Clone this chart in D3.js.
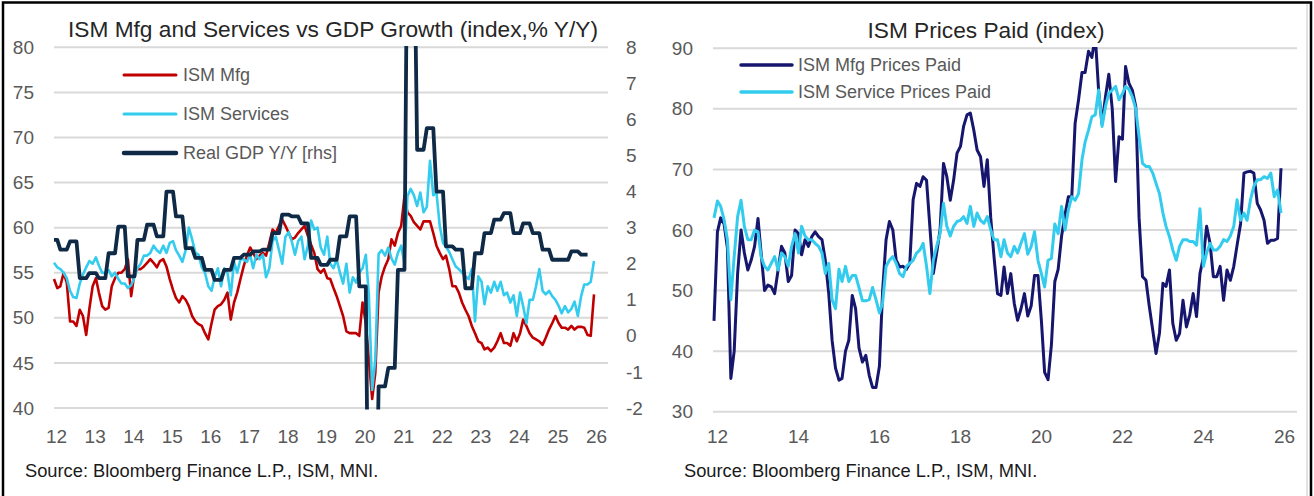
<!DOCTYPE html>
<html><head><meta charset="utf-8">
<script src="https://cdn.jsdelivr.net/npm/d3@7"></script>
<style>body{margin:0;background:#fff}</style>
</head><body><svg id="c" width="1314" height="496"></svg>
<script>
// ---- DATA (monthly from Jan 2012 to Jan 2026; GDP quarterly Q1 2012 - Q4 2025) ----
const ismMfg = [
  54.3,53.3,53.5,55.0,53.9,49.6,49.6,49.1,50.9,50.2,48.1,51.0, // 2012
  53.5,54.4,52.8,51.3,50.9,51.1,53.5,54.4,55.0,55.0,55.4,56.5, // 2013
  52.4,55.0,55.4,55.4,55.7,56.1,56.5,56.1,55.6,56.3,56.5,55.7, // 2014
  54.3,53.1,52.2,51.7,52.4,52.0,51.3,50.2,49.6,49.3,49.1,48.3, // 2015
  47.6,49.4,50.9,51.3,51.5,52.0,52.8,49.8,51.7,52.8,54.3,55.7, // 2016
  56.9,57.8,57.2,56.5,56.9,57.2,56.9,58.3,59.8,59.4,60.2,60.9, // 2017
  60.2,59.4,58.7,58.9,59.4,59.8,60.2,59.1,58.1,57.2,55.4,55.0, // 2018
  55.4,54.4,54.3,53.3,52.4,51.3,50.2,48.5,48.3,48.3,48.3,48.0, // 2019
  51.7,49.4,45.4,41.0,43.9,52.8,54.6,55.7,56.5,58.7,58.0,59.4, // 2020
  60.2,63.5,61.7,61.3,60.6,60.2,59.8,60.7,60.7,60.7,59.4,58.0, // 2021
  57.2,56.5,56.9,55.4,53.5,53.5,52.8,51.7,50.9,50.2,49.1,48.3, // 2022
  47.4,47.2,46.5,46.7,46.3,46.7,47.4,48.3,47.2,47.2,46.9,48.3, // 2023
  47.4,48.3,49.8,49.1,48.3,47.8,47.6,47.4,47.0,47.8,48.7,49.4, // 2024
  50.2,49.4,48.9,48.9,48.7,49.1,48.7,49.0,49.0,48.9,48.1,48.0, // 2025
  52.6                                                         // 2026
];
const ismServices = [
  56.1,55.6,55.4,55.0,54.4,53.0,52.3,52.2,53.8,54.8,55.6,56.3,
  56.0,56.7,55.8,55.0,55.0,55.3,54.6,55.0,54.3,53.8,53.8,53.3,
  53.6,54.5,55.5,56.0,56.9,56.9,57.2,58.0,57.5,57.2,58.0,57.2,
  58.3,58.5,57.5,56.9,56.2,57.5,60.0,58.7,57.2,57.0,55.6,55.0,
  53.5,53.0,54.5,55.5,53.5,55.5,55.0,52.5,56.2,55.0,56.5,56.5,
  56.2,57.0,55.5,57.0,56.5,57.0,54.5,55.5,58.5,59.0,57.5,56.0,
  59.0,59.5,58.5,57.0,58.5,59.0,56.5,58.0,60.8,59.8,60.0,57.8,
  57.0,59.0,56.0,55.5,56.5,55.0,53.8,56.0,52.8,54.5,53.9,55.0,
  55.5,57.0,52.5,42.0,45.4,57.1,57.5,56.9,57.8,56.6,55.9,57.2,
  58.0,56.0,63.5,64.3,63.6,62.4,63.9,61.7,62.3,67.4,63.6,63.9,
  60.2,58.3,57.9,57.3,56.5,55.7,55.4,55.0,54.6,54.3,55.4,49.6,
  54.6,54.0,51.5,53.5,52.8,54.0,53.0,54.0,52.5,52.8,51.7,52.5,
  50.2,52.8,51.3,49.4,52.0,52.0,53.5,55.4,53.0,52.6,53.0,52.4,
  52.0,51.3,50.5,51.3,50.6,51.0,51.8,50.2,52.4,53.7,53.7,54.0,
  56.3
];
const gdpYoY = [
  2.66,2.39,2.62,1.60,  1.74,1.60,2.29,3.03,  1.65,2.66,3.08,2.76,
  4.00,3.31,2.43,2.16,  1.83,1.55,1.83,2.16,  2.25,2.34,2.39,2.85,
  3.36,3.31,3.12,2.16,  1.97,2.11,2.76,3.31,  1.37,-7.5,-1.40,-0.89,
  1.83,12.0,5.16,5.76,  4.00,2.48,2.39,1.32,  2.29,2.85,3.22,3.40,
  2.85,3.12,2.85,2.39,  2.11,2.11,2.34,2.25
];
const mfgPrices = [
  45.0,59.7,62.0,61.0,57.0,35.5,40.0,52.8,60.0,56.2,53.4,55.0,
  57.3,61.9,56.2,50.0,50.9,50.6,49.5,53.4,57.3,56.2,51.5,52.5,
  60.0,59.4,55.9,58.4,57.3,58.9,59.7,58.9,58.4,55.0,49.5,41.8,
  37.2,35.2,35.5,40.0,41.8,49.2,47.0,40.5,38.2,39.3,36.0,34.0,
  34.0,37.5,50.0,58.4,61.4,60.0,55.0,53.9,54.0,53.5,54.5,65.0,
  67.7,67.2,68.8,68.2,60.5,52.8,56.2,60.0,71.0,68.8,64.9,68.2,
  72.7,73.8,77.1,79.0,79.3,76.5,73.2,72.1,67.2,71.6,62.0,55.5,
  49.5,49.2,53.9,49.5,52.8,47.9,45.1,47.0,49.5,45.8,47.5,52.5,
  52.5,45.0,36.5,35.3,41.0,51.5,53.5,59.0,62.5,65.5,65.5,77.6,
  81.5,86.0,86.0,89.5,88.5,92.0,83.0,77.5,82.0,85.7,80.0,68.0,
  75.4,75.0,87.0,84.2,83.1,80.4,62.0,52.3,51.7,47.4,43.5,39.6,
  43.0,51.2,50.7,53.4,44.6,41.8,42.9,48.4,44.0,46.0,49.5,45.7,
  52.8,55.5,60.6,57.8,52.3,52.3,54.0,48.4,53.4,51.7,54.0,57.5,
  61.0,69.4,69.6,69.7,69.4,64.4,63.3,61.6,57.8,58.3,58.3,58.6,
  70.2
];
const svcPrices = [
  62.0,64.8,63.9,61.7,58.4,48.5,55.6,62.2,64.9,60.6,58.4,58.4,
  60.0,59.7,55.6,54.0,53.4,54.5,55.6,53.4,56.2,55.6,54.0,57.3,
  59.4,56.2,60.6,59.0,58.4,58.4,57.8,57.3,56.2,52.8,54.5,48.5,
  47.0,53.5,51.5,54.0,51.5,52.5,52.5,50.5,48.3,48.3,48.5,50.5,
  48.5,46.3,48.0,54.0,55.0,55.6,54.5,52.8,52.3,54.0,54.5,55.0,
  56.2,56.7,57.8,54.0,49.5,55.0,57.3,59.4,64.4,60.6,59.0,60.6,
  61.4,61.6,62.2,61.1,63.9,60.6,62.8,61.6,61.1,62.2,60.0,58.4,
  58.4,55.6,58.4,56.2,55.6,57.3,56.2,57.8,59.4,56.0,57.3,59.7,
  55.0,52.8,50.6,55.0,55.3,61.0,59.4,63.9,60.0,63.3,65.5,64.9,
  66.0,71.6,74.5,76.5,78.7,79.0,83.1,77.1,80.4,82.6,83.1,83.7,
  81.5,82.5,83.7,83.2,82.0,80.0,75.4,71.0,70.5,70.5,69.4,67.7,
  66.0,62.8,60.6,58.9,56.7,55.0,57.3,58.4,58.4,58.1,58.1,57.5,
  63.5,54.0,56.2,57.8,56.7,56.7,57.3,58.4,58.1,59.0,60.6,65.0,
  61.6,62.8,61.6,65.0,67.2,68.3,68.3,68.8,68.5,69.4,65.5,66.6,
  62.8
];
const leftTicks = [40,45,50,55,60,65,70,75,80];
const rightTicks = [-2,-1,0,1,2,3,4,5,6,7,8];
const priceTicks = [30,40,50,60,70,80,90];
const leftYears = [2012,2013,2014,2015,2016,2017,2018,2019,2020,2021,2022,2023,2024,2025,2026];
const rightYears = [2012,2014,2016,2018,2020,2022,2024,2026];
const leftTitle = "ISM Mfg and Services vs GDP Growth (index,% Y/Y)";
const rightTitle = "ISM Prices Paid (index)";
const leftLegend = ["ISM Mfg","ISM Services","Real GDP Y/Y [rhs]"];
const rightLegend = ["ISM Mfg Prices Paid","ISM Service Prices Paid"];
const sourceText = "Source: Bloomberg Finance L.P., ISM, MNI.";

// ---- DRAWING ----
const FONT = "'Liberation Sans', Arial, sans-serif";
const C = {red:"#c00000", cyan:"#33ccee", navy:"#0f2a47", indigo:"#16166e", grid:"#d9d9d9", tick:"#595959"};
const monthDate = i => new Date(2012, i, 1);
const svg = d3.select("#c");
svg.append("rect").attr("width",1314).attr("height",496).attr("fill","#fff");
const defs = svg.append("defs");

function styleAxis(g, anchor){
  g.select(".domain").remove();
  g.selectAll("text").attr("font-family",FONT).attr("font-size",19).attr("fill",C.tick);
  if(anchor) g.attr("text-anchor",anchor);
}

// ===== LEFT CHART =====
const xL = d3.scaleTime().domain([monthDate(0), monthDate(168)]).range([54,594]);
const yL = d3.scaleLinear().domain([40,80]).range([408,47.3]);
const yR = d3.scaleLinear().domain([-2,8]).range([408,47.3]);

svg.append("g").selectAll("line").data(leftTicks).join("line")
  .attr("x1",54).attr("x2",608).attr("y1",d=>yL(d)).attr("y2",d=>yL(d))
  .attr("stroke",C.grid).attr("stroke-width",2);

styleAxis(svg.append("g").attr("transform","translate(34,0)")
  .call(d3.axisLeft(yL).tickValues(leftTicks).tickSize(0).tickPadding(0)), "end");
styleAxis(svg.append("g").attr("transform","translate(626,0)")
  .call(d3.axisRight(yR).tickValues(rightTicks).tickFormat(d=>String(d)).tickSize(0).tickPadding(0)), "start");
const gxL = svg.append("g").attr("transform","translate(2,443)")
  .call(d3.axisBottom(xL).tickValues(leftYears.map(y=>new Date(y,0,1))).tickFormat(d3.timeFormat("%y")).tickSize(0).tickPadding(0));
styleAxis(gxL); gxL.selectAll("text").attr("dy",0).attr("y",0);

defs.append("clipPath").attr("id","clipL").append("rect").attr("x",50).attr("y",46).attr("width",562).attr("height",363.5);
const gL = svg.append("g").attr("clip-path","url(#clipL)");
const lineM = d3.line().x((d,i)=>xL(monthDate(i))).y(d=>yL(d));
gL.append("path").datum(ismMfg).attr("d",lineM).attr("fill","none").attr("stroke",C.red).attr("stroke-width",2.6).attr("stroke-linejoin","round");
gL.append("path").datum(ismServices).attr("d",lineM).attr("fill","none").attr("stroke",C.cyan).attr("stroke-width",2.6).attr("stroke-linejoin","round");
const gdpPts = [];
gdpYoY.forEach((v,q)=>{ [-1,0,1].forEach(k=>{ const m=3*q+k; if(m>=0) gdpPts.push({m, v}); }); });
gL.append("path").datum(gdpPts)
  .attr("d", d3.line().x(d=>xL(monthDate(d.m))).y(d=>yR(d.v)))
  .attr("fill","none").attr("stroke",C.navy).attr("stroke-width",3.8).attr("stroke-linejoin","round");

// legend left
const legL = svg.append("g");
const legLColors = [C.red, C.cyan, C.navy], legLW = [3,3,4.5], legLY = [75,114,153];
leftLegend.forEach((t,i)=>{
  legL.append("line").attr("x1",124).attr("x2",176).attr("y1",legLY[i]).attr("y2",legLY[i])
    .attr("stroke",legLColors[i]).attr("stroke-width",legLW[i]).attr("stroke-linecap","round");
  legL.append("text").attr("x",183).attr("y",legLY[i]).attr("dy","0.35em").text(t)
    .attr("font-family",FONT).attr("font-size",18).attr("fill",C.tick);
});

svg.append("text").attr("x",333).attr("y",37).attr("text-anchor","middle").text(leftTitle)
  .attr("font-family",FONT).attr("font-size",22.7).attr("fill","#262626");
svg.append("text").attr("x",25).attr("y",477).text(sourceText)
  .attr("font-family",FONT).attr("font-size",18.3).attr("fill","#1a1a1a");

// ===== RIGHT CHART =====
const xP = d3.scaleTime().domain([monthDate(0), monthDate(168)]).range([714,1281]);
const yP = d3.scaleLinear().domain([30,90]).range([411.7,48.3]);

svg.append("g").selectAll("line").data(priceTicks).join("line")
  .attr("x1",713).attr("x2",1297).attr("y1",d=>yP(d)).attr("y2",d=>yP(d))
  .attr("stroke",C.grid).attr("stroke-width",2);
styleAxis(svg.append("g").attr("transform","translate(693,0)")
  .call(d3.axisLeft(yP).tickValues(priceTicks).tickSize(0).tickPadding(0)), "end");
const gxP = svg.append("g").attr("transform","translate(3,443)")
  .call(d3.axisBottom(xP).tickValues(rightYears.map(y=>new Date(y,0,1))).tickFormat(d3.timeFormat("%y")).tickSize(0).tickPadding(0));
styleAxis(gxP); gxP.selectAll("text").attr("dy",0).attr("y",0);

defs.append("clipPath").attr("id","clipP").append("rect").attr("x",705).attr("y",47).attr("width",600).attr("height",370);
const gP = svg.append("g").attr("clip-path","url(#clipP)");
const lineP = d3.line().x((d,i)=>xP(monthDate(i))).y(d=>yP(d));
gP.append("path").datum(mfgPrices).attr("d",lineP).attr("fill","none").attr("stroke",C.indigo).attr("stroke-width",3).attr("stroke-linejoin","round");
gP.append("path").datum(svcPrices).attr("d",lineP).attr("fill","none").attr("stroke",C.cyan).attr("stroke-width",3).attr("stroke-linejoin","round");

const legP = svg.append("g");
const legPColors = [C.indigo, C.cyan], legPY = [65,92];
rightLegend.forEach((t,i)=>{
  legP.append("line").attr("x1",741).attr("x2",792).attr("y1",legPY[i]).attr("y2",legPY[i])
    .attr("stroke",legPColors[i]).attr("stroke-width",3.5).attr("stroke-linecap","round");
  legP.append("text").attr("x",798).attr("y",legPY[i]).attr("dy","0.35em").text(t)
    .attr("font-family",FONT).attr("font-size",18).attr("fill",C.tick);
});

svg.append("text").attr("x",986).attr("y",38).attr("text-anchor","middle").text(rightTitle)
  .attr("font-family",FONT).attr("font-size",22.7).attr("fill","#262626");
svg.append("text").attr("x",684).attr("y",477).text(sourceText)
  .attr("font-family",FONT).attr("font-size",18.3).attr("fill","#1a1a1a");

// frame
svg.append("line").attr("x1",1307).attr("x2",1307).attr("y1",4).attr("y2",496).attr("stroke","#c8c8c8").attr("stroke-width",1);
svg.append("path").attr("d","M3,497 V2.5 H1311 V497").attr("fill","none").attr("stroke","#000").attr("stroke-width",2.5);
</script></body></html>
